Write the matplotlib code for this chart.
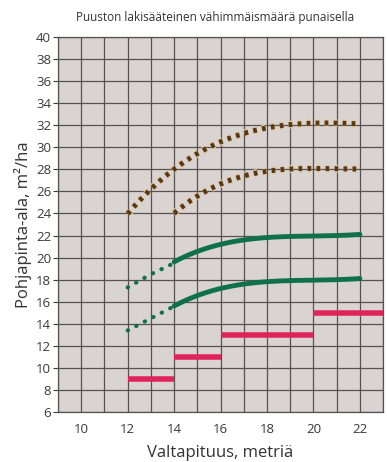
import matplotlib
matplotlib.use("Agg")
import matplotlib.pyplot as plt
import matplotlib.patheffects as pe
import numpy as np

plt.rcParams['font.family'] = ['Open Sans', 'DejaVu Sans']

# Data
brown_upper_x = [12, 13, 14, 15, 16, 17, 18, 19, 20, 21, 22]
brown_upper_y = [23.9, 26.3, 28.1, 29.4, 30.4, 31.2, 31.8, 32.1, 32.2, 32.2, 32.1]
brown_lower_x = [14, 15, 16, 17, 18, 19, 20, 21, 22]
brown_lower_y = [24.0, 25.6, 26.7, 27.4, 27.8, 28.0, 28.1, 28.1, 28.0]

green_upper_dot_x = [12, 13, 14]
green_upper_dot_y = [17.3, 18.5, 19.5]
green_upper_x = [14, 15, 16, 17, 18, 19, 20, 21, 22]
green_upper_y = [19.6, 20.6, 21.2, 21.6, 21.8, 21.9, 22.0, 22.0, 22.1]

green_lower_dot_x = [12, 13, 14]
green_lower_dot_y = [13.4, 14.5, 15.6]
green_lower_x = [14, 15, 16, 17, 18, 19, 20, 21, 22]
green_lower_y = [15.6, 16.6, 17.2, 17.6, 17.8, 17.9, 18.0, 18.0, 18.1]

red_start = [12, 14, 16, 20]
red_end = [14, 16, 20, 23]
red_value = [9, 11, 13, 15]

x_ticks = [10, 12, 14, 16, 18, 20, 22]
y_ticks = list(range(6, 41, 2))

title = "Puuston lakisääteinen vähimmäismäärä punaisella"
xlabel = "Valtapituus, metriä"
ylabel = "Pohjapinta-ala, m²/ha"

fig = plt.figure(figsize=(3.87, 4.62), dpi=100)
ax = fig.add_axes([0.150, 0.108, 0.840, 0.812])
ax.set_facecolor('#d9d4d1')
fig.patch.set_facecolor('white')

ax.set_xlim(9, 23)
ax.set_ylim(6, 40)
ax.set_xticks(x_ticks)
ax.set_xticks(np.arange(9, 24, 1), minor=True)
ax.set_yticks(y_ticks)
grid_c = '#575252'
ax.grid(True, which='both', axis='x', color=grid_c, lw=0.9)
ax.grid(True, which='major', axis='y', color=grid_c, lw=0.9)
ax.set_axisbelow(True)
ax.tick_params(axis='x', which='both', length=0, labelsize=9.5, colors='#3a3a3a', pad=8)
ax.tick_params(axis='y', length=3.5, labelsize=9.5, colors='#3a3a3a', pad=1.5)
for s in ax.spines.values():
    s.set_color(grid_c)
    s.set_linewidth(0.9)

def smooth(xs, ys, n=200):
    xs = np.asarray(xs, float); ys = np.asarray(ys, float)
    xx = np.linspace(xs[0], xs[-1], n)
    c = np.polyfit(xs, ys, min(3, len(xs) - 1))
    return xx, np.polyval(c, xx)

halo = [pe.Stroke(linewidth=5.6, foreground='#e6c8a0'), pe.Normal()]
for xs, ys in [(brown_upper_x, brown_upper_y), (brown_lower_x, brown_lower_y)]:
    xx, yy = smooth(xs, ys)
    ax.plot(xx, yy, color='#5a3810', lw=3.6, linestyle=(0, (0.75, 1.05)),
            dash_capstyle='butt', path_effects=halo, zorder=3)

green = '#0f7149'
for xs, ys in [(green_upper_dot_x, green_upper_dot_y), (green_lower_dot_x, green_lower_dot_y)]:
    ax.plot(xs, ys, color=green, lw=3.0, linestyle=(0, (0.1, 2.2)),
            dash_capstyle='round', zorder=3)
for xs, ys in [(green_upper_x, green_upper_y), (green_lower_x, green_lower_y)]:
    xx, yy = smooth(xs, ys)
    ax.plot(xx, yy, color=green, lw=3.5, solid_capstyle='round', zorder=3)

for a, b, v in zip(red_start, red_end, red_value):
    ax.plot([a, b], [v, v], color='#e0245a', lw=4, solid_capstyle='butt', zorder=3)

fig.text(0.555, 0.963, title, ha='center', va='center', fontsize=8.5, color='#333333')
ax.set_xlabel(xlabel, fontsize=12, color='#333333', labelpad=6)
ax.set_ylabel(ylabel, fontsize=12, color='#333333', labelpad=3)

fig.savefig('out.png', dpi=100)
